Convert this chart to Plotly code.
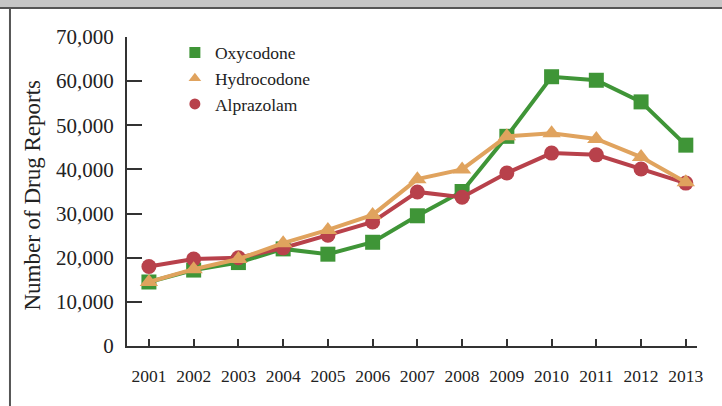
import plotly.graph_objects as go

years = list(range(2001, 2014))
oxycodone = [14500, 17200, 18900, 22000, 20800, 23500, 29500, 35000, 47500, 61000, 60200, 55300, 45500]
hydrocodone = [14500, 17400, 19700, 23300, 26300, 29700, 37800, 40000, 47500, 48200, 46900, 42800, 37100]
alprazolam = [18000, 19700, 20000, 22200, 25100, 28100, 34900, 33700, 39200, 43700, 43300, 40100, 36900]
y_ticks = [0, 10000, 20000, 30000, 40000, 50000, 60000, 70000]

GREEN = "#3f9537"
ORANGE = "#e0a35e"
RED = "#b8414b"
FONT = "Liberation Serif"

fig = go.Figure()

# drawing order: green, red, orange (orange sits on top)
series = [
    ("Oxycodone", oxycodone, GREEN, "square", 15, 1),
    ("Alprazolam", alprazolam, RED, "circle", 15, 3),
    ("Hydrocodone", hydrocodone, ORANGE, "triangle-up", 16, 2),
]
for name, vals, color, symbol, size, rank in series:
    fig.add_trace(go.Scatter(
        x=years, y=vals, mode="lines+markers", name=name,
        line=dict(color=color, width=4),
        marker=dict(symbol=symbol, size=size, color=color),
        showlegend=False
    ))
    # legend-only entry, marker without line
    fig.add_trace(go.Scatter(
        x=[None], y=[None], mode="markers", name=name,
        marker=dict(symbol=symbol, size=11, color=color),
        legendrank=rank
    ))

# frame pieces: grey band on top, dark rule, left rule
fig.add_shape(type="rect", xref="paper", yref="paper",
              x0=-0.25, x1=1.1, y0=1.0955, y1=1.13,
              fillcolor="#c6c6c6", line=dict(width=0), layer="below")
fig.add_shape(type="line", xref="paper", yref="paper",
              x0=-0.25, x1=1.1, y0=1.0939, y1=1.0939,
              line=dict(color="#555555", width=2))
fig.add_shape(type="line", xref="paper", yref="paper",
              x0=-0.2053, x1=-0.2053, y0=-0.3, y1=1.0939,
              line=dict(color="#555555", width=2))

fig.add_annotation(
    text="Number of Drug Reports", textangle=-90,
    xref="paper", yref="paper", x=-0.165, y=0.49,
    xanchor="center", yanchor="middle", showarrow=False,
    font=dict(family=FONT, size=23, color="#222222")
)

fig.update_layout(
    width=722, height=406,
    margin=dict(l=127, r=25, t=37, b=60),
    paper_bgcolor="white", plot_bgcolor="white",
    font=dict(family=FONT, color="#222222"),
    showlegend=True,
    legend=dict(x=0.084, y=1.008, xanchor="left", yanchor="top",
                font=dict(family=FONT, size=17.5, color="#222222"),
                bgcolor="rgba(0,0,0,0)", tracegroupgap=0,
                itemwidth=30),
    xaxis=dict(
        range=[2000.51, 2013.25], tickmode="array", tickvals=years,
        ticks="inside", ticklen=7, tickwidth=1.5, tickcolor="#333333",
        showline=True, linecolor="#333333", linewidth=2,
        showgrid=False, zeroline=False,
        tickfont=dict(family=FONT, size=17.5, color="#222222"),
        ticklabelstandoff=13
    ),
    yaxis=dict(
        range=[0, 70000], tickmode="array", tickvals=y_ticks,
        tickformat=",", ticks="inside", ticklen=15, tickwidth=1.5,
        tickcolor="#333333", showline=True, linecolor="#333333", linewidth=2,
        showgrid=False, zeroline=False,
        tickfont=dict(family=FONT, size=21, color="#222222"),
        ticklabelstandoff=7
    ),
)

fig.write_html("out.html", config={"displayModeBar": False},
               post_script="document.body.style.margin='0px';")
